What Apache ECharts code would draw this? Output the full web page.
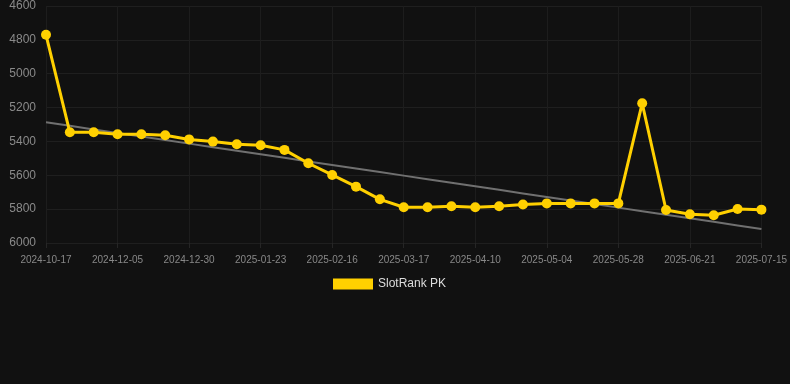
<!DOCTYPE html>
<html>
<head>
<meta charset="utf-8">
<script src="https://cdn.jsdelivr.net/npm/echarts@6/dist/echarts.min.js"></script>
<style>
html,body{margin:0;padding:0;background:#111111;}
#chart{width:790px;height:384px;}
</style>
</head>
<body>
<div id="chart"></div>
<script>
var categories = [
  '2024-10-17','2024-11-02','2024-11-18','2024-12-05','2024-12-13','2024-12-21',
  '2024-12-30','2025-01-07','2025-01-15','2025-01-23','2025-01-31','2025-02-08',
  '2025-02-16','2025-02-26','2025-03-07','2025-03-17','2025-03-25','2025-04-02',
  '2025-04-10','2025-04-18','2025-04-26','2025-05-04','2025-05-12','2025-05-20',
  '2025-05-28','2025-06-05','2025-06-13','2025-06-21','2025-06-29','2025-07-07',
  '2025-07-15'
];
var rankValues = [
  4770, 5346, 5346, 5358, 5358, 5364, 5388, 5401, 5417, 5423, 5450,
  5529, 5598, 5667, 5742, 5789, 5789, 5783, 5789, 5783, 5773, 5766,
  5766, 5766, 5766, 5175, 5805, 5830, 5836, 5799, 5803
];
var trendStart = 5287;
var trendEnd = 5917;
var yTicks = { min: 4600, max: 6000, interval: 200 };

var trendData = categories.map(function (c, i) {
  if (i === 0) return trendStart;
  if (i === categories.length - 1) return trendEnd;
  return trendStart + (trendEnd - trendStart) * i / (categories.length - 1);
});

var chart = echarts.init(document.getElementById('chart'));
chart.setOption({
  backgroundColor: '#111111',
  animation: false,
  textStyle: { fontFamily: 'Liberation Sans, Arial, sans-serif' },
  grid: { left: 46, right: 28, top: 6, bottom: 141, containLabel: false },
  legend: {
    data: ['SlotRank PK'],
    top: 278,
    left: 333,
    padding: 0,
    icon: 'rect',
    itemWidth: 40,
    itemHeight: 11,
    itemGap: 6,
    textStyle: { color: '#dddddd', fontSize: 12 }
  },
  xAxis: {
    type: 'category',
    data: categories,
    boundaryGap: false,
    axisLine: { show: false },
    axisTick: { show: true, interval: 2, lineStyle: { color: '#262626' } },
    axisLabel: { interval: 2, color: '#888888', fontSize: 10, margin: 12 },
    splitLine: { show: true, interval: 2, lineStyle: { color: '#1d1d1d', width: 1 } }
  },
  yAxis: {
    type: 'value',
    inverse: true,
    min: yTicks.min,
    max: yTicks.max,
    interval: yTicks.interval,
    axisLine: { show: false },
    axisTick: { show: false },
    axisLabel: { color: '#8a8a8a', fontSize: 12, margin: 10, formatter: function (v) { return String(v); } },
    splitLine: { lineStyle: { color: '#1f1f1f', width: 1 } }
  },
  series: [
    {
      name: 'Trend',
      type: 'line',
      data: trendData,
      symbol: 'none',
      lineStyle: { color: '#707070', width: 2 },
      z: 1
    },
    {
      name: 'SlotRank PK',
      type: 'line',
      data: rankValues,
      symbol: 'circle',
      symbolSize: 10,
      itemStyle: { color: '#FFD000' },
      lineStyle: { color: '#FFD000', width: 3 },
      z: 2
    }
  ]
});
</script>
</body>
</html>
